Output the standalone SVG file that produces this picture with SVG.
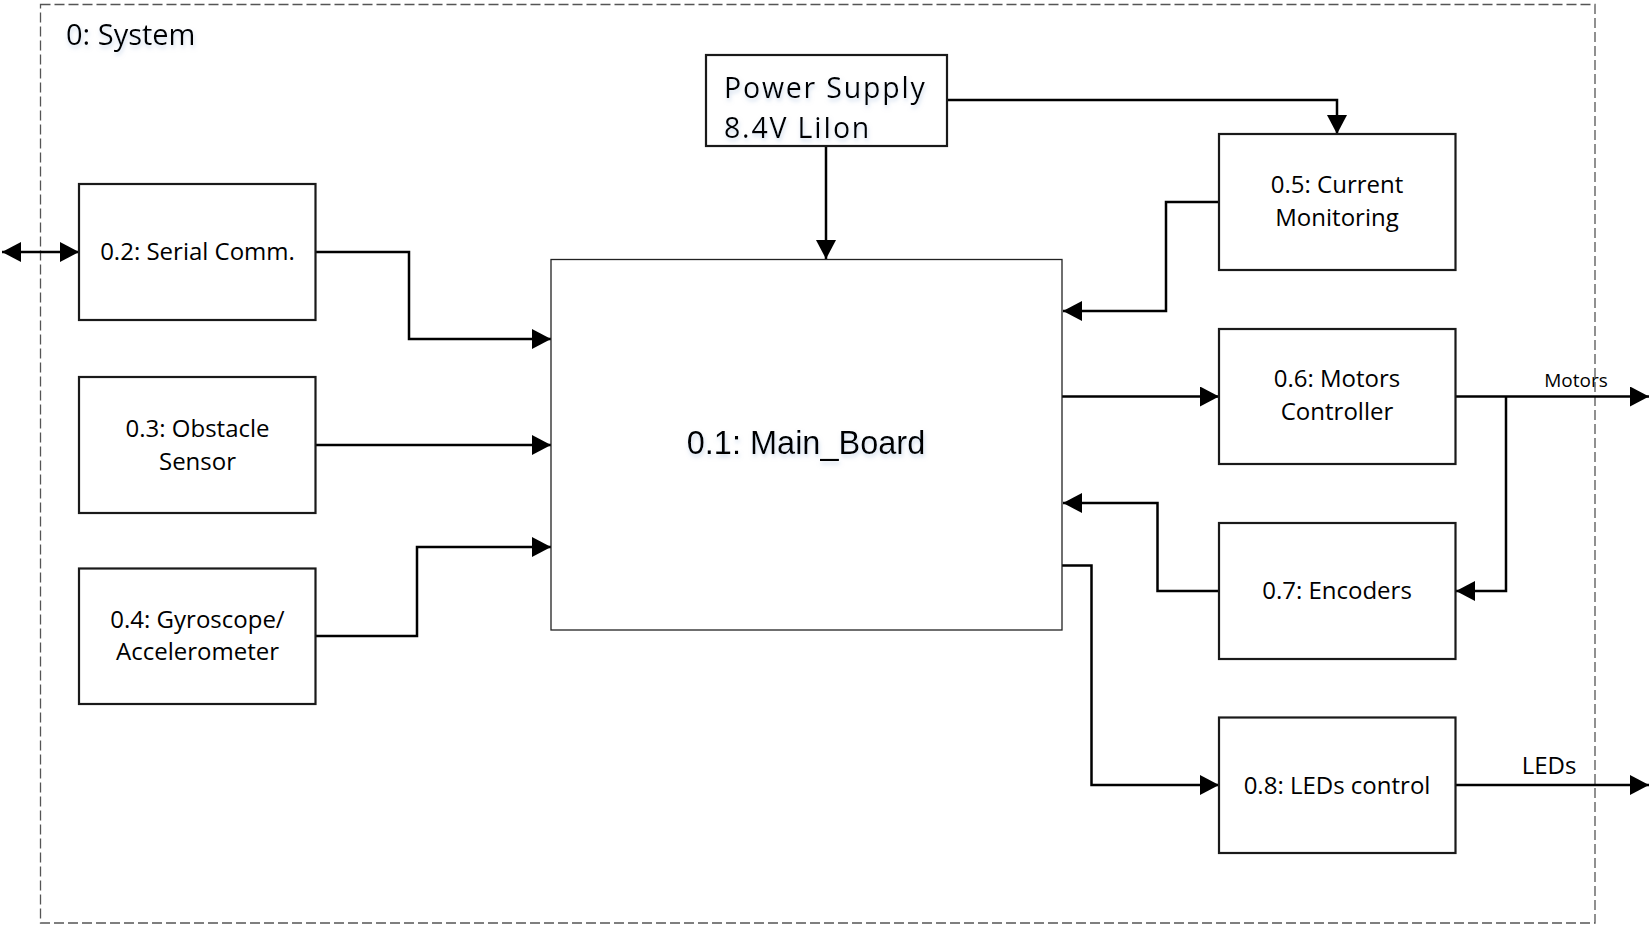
<svg xmlns="http://www.w3.org/2000/svg" width="1652" height="938" viewBox="0 0 1652 938">
<style>
.box{fill:#fff;stroke:#1a1a1a;stroke-width:2.2}
.lbl{font-family:"Open Sans","Liberation Sans",sans-serif;font-size:24px;fill:#000;text-anchor:middle}
.wire{fill:none;stroke:#000;stroke-width:2.5}
.ps{font-family:"Open Sans","Liberation Sans",sans-serif;font-size:28.5px;letter-spacing:1.8px;fill:#000}
</style>
<defs>
<marker id="ah" viewBox="0 0 19 20" refX="19" refY="10" markerWidth="19" markerHeight="20" markerUnits="userSpaceOnUse" orient="auto-start-reverse">
<path d="M0,0 L19,10 L0,20 Z" fill="#000"/>
</marker>
<filter id="glow" x="-10%" y="-30%" width="120%" height="160%">
<feDropShadow dx="1" dy="3" stdDeviation="2" flood-color="#9fb8d8" flood-opacity="0.5"/>
</filter>
</defs>
<rect width="1652" height="938" fill="#fff"/>
<g id="system">
<rect x="40.5" y="4.5" width="1554.5" height="918.5" fill="none" stroke="#555" stroke-width="1.3" stroke-dasharray="10 4"/>
<text x="66" y="45" font-family="'Open Sans','Liberation Sans',sans-serif" font-size="29" fill="#000" filter="url(#glow)">0: System</text>
</g>
<g id="connectors">
<path class="wire" d="M2,252 L79,252" marker-start="url(#ah)" marker-end="url(#ah)"/>
<path class="wire" d="M315,252 L409,252 L409,339 L551,339" marker-end="url(#ah)"/>
<path class="wire" d="M315,445 L551,445" marker-end="url(#ah)"/>
<path class="wire" d="M315,636 L417,636 L417,547 L551,547" marker-end="url(#ah)"/>
<path class="wire" d="M826,146 L826,259" marker-end="url(#ah)"/>
<path class="wire" d="M946,100 L1337,100 L1337,134" marker-end="url(#ah)"/>
<path class="wire" d="M1219,202 L1166,202 L1166,311 L1063,311" marker-end="url(#ah)"/>
<path class="wire" d="M1062,396.5 L1219,396.5" marker-end="url(#ah)"/>
<path class="wire" d="M1455,396.5 L1649,396.5" marker-end="url(#ah)"/>
<path class="wire" d="M1506,396.5 L1506,591 L1456,591" marker-end="url(#ah)"/>
<path class="wire" d="M1219,591 L1157.5,591 L1157.5,503 L1063,503" marker-end="url(#ah)"/>
<path class="wire" d="M1062,565.5 L1091.5,565.5 L1091.5,785 L1219,785" marker-end="url(#ah)"/>
<path class="wire" d="M1455,785 L1649,785" marker-end="url(#ah)"/>
<text x="1576" y="387" font-family="'Open Sans','Liberation Sans',sans-serif" font-size="19" text-anchor="middle" fill="#000">Motors</text>
<text x="1549" y="774" class="lbl">LEDs</text>
</g>
<g id="power">
<rect x="706" y="55" width="241" height="91" class="box"/>
<text x="724" y="98.3" class="ps" filter="url(#glow)">Power Supply</text>
<text x="724" y="137.7" class="ps" filter="url(#glow)">8.4V LiIon</text>
</g>
<g id="main_board">
<rect x="551" y="259.5" width="511" height="370.5" fill="#fff" stroke="#222" stroke-width="1.3"/>
<text x="806" y="454" font-family="'Liberation Sans',Arial,sans-serif" font-size="32.5" text-anchor="middle" fill="#000" filter="url(#glow)">0.1: Main_Board</text>
</g>
<g id="serial">
<rect x="79" y="184" width="236.5" height="136" class="box"/>
<text x="197.5" y="260" class="lbl">0.2: Serial Comm.</text>
</g>
<g id="obstacle">
<rect x="79" y="377" width="236.5" height="136" class="box"/>
<text x="197.5" y="436.5" class="lbl">0.3: Obstacle</text>
<text x="197.5" y="469.5" class="lbl">Sensor</text>
</g>
<g id="gyro">
<rect x="79" y="568.5" width="236.5" height="135.5" class="box"/>
<text x="197.5" y="627.5" class="lbl">0.4: Gyroscope/</text>
<text x="197.5" y="660" class="lbl">Accelerometer</text>
</g>
<g id="current">
<rect x="1219" y="134" width="236.5" height="136" class="box"/>
<text x="1337" y="192.5" class="lbl">0.5: Current</text>
<text x="1337" y="226" class="lbl">Monitoring</text>
</g>
<g id="motors">
<rect x="1219" y="329" width="236.5" height="135" class="box"/>
<text x="1337" y="386.5" class="lbl">0.6: Motors</text>
<text x="1337" y="420" class="lbl">Controller</text>
</g>
<g id="encoders">
<rect x="1219" y="523" width="236.5" height="136" class="box"/>
<text x="1337" y="598.5" class="lbl">0.7: Encoders</text>
</g>
<g id="leds">
<rect x="1219" y="717.5" width="236.5" height="135.5" class="box"/>
<text x="1337" y="793.5" class="lbl">0.8: LEDs control</text>
</g>
</svg>
